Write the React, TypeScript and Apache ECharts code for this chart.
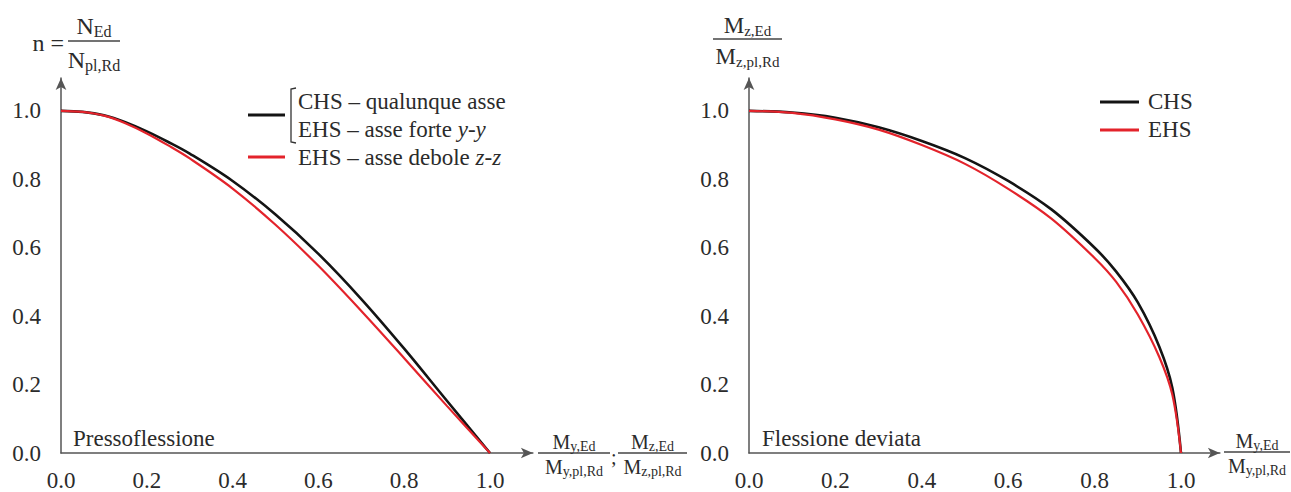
import React, { useEffect, useRef } from "react";
import * as echarts from "echarts";

// ---- data ----
const LEFT_M = [0, 0.05, 0.1, 0.15, 0.2, 0.25, 0.3, 0.4, 0.5, 0.6, 0.7, 0.8, 0.9, 1.0];
const LEFT_CHS_N = [1.0, 0.997, 0.987, 0.967, 0.94, 0.909, 0.875, 0.795, 0.697, 0.582, 0.45, 0.305, 0.152, 0];
const LEFT_EHS_WEAK_N = [1.0, 0.997, 0.986, 0.964, 0.934, 0.899, 0.861, 0.773, 0.667, 0.547, 0.415, 0.277, 0.137, 0];

const RIGHT_MY = [0, 0.1, 0.2, 0.3, 0.4, 0.5, 0.6, 0.7, 0.8, 0.85, 0.9, 0.95, 0.98, 1.0];
const RIGHT_CHS_MZ = [1.0, 0.995, 0.98, 0.952, 0.912, 0.862, 0.795, 0.712, 0.6, 0.53, 0.44, 0.31, 0.19, 0];
const RIGHT_EHS_MZ = [1.0, 0.994, 0.975, 0.945, 0.9, 0.845, 0.772, 0.685, 0.57, 0.5, 0.405, 0.28, 0.17, 0];

const TICK_INTERVAL = 0.2;

const FONT = '"Liberation Serif", "Times New Roman", serif';
const TXT = "#2b2b2b";
const AXIS = "#555";
const BLACK = "#141414";
const RED = "#e3232b";

let measureCtx: CanvasRenderingContext2D | null = null;
function tw(text: string, size: number): number {
  if (!measureCtx) measureCtx = document.createElement("canvas").getContext("2d");
  if (!measureCtx) return text.length * size * 0.5;
  measureCtx.font = `${size}px "Liberation Serif"`;
  return measureCtx.measureText(text).width;
}

function txt(x: number, y: number, text: string, size: number, extra: any = {}) {
  return {
    type: "text",
    x,
    y,
    silent: true,
    style: {
      text,
      fontSize: size,
      fontFamily: FONT,
      fill: TXT,
      align: "left",
      verticalAlign: "middle",
      ...extra,
    },
  };
}

function subbed(cx: number, baseline: number, main: string, sub: string, ms: number, ss: number) {
  const wm = tw(main, ms);
  const ws = tw(sub, ss);
  const x0 = cx - (wm + ws) / 2;
  return [
    txt(x0, baseline - 0.3 * ms, main, ms),
    txt(x0 + wm, baseline + 3 - 0.3 * ss, sub, ss),
  ];
}

function frac(
  x1: number,
  x2: number,
  lineY: number,
  num: [string, string],
  den: [string, string],
  ms: number,
  ss: number,
  numOff: number,
  denOff: number
) {
  const cx = (x1 + x2) / 2;
  return [
    {
      type: "line",
      silent: true,
      shape: { x1, y1: lineY, x2, y2: lineY },
      style: { stroke: "#444", lineWidth: 1.3 },
    },
    ...subbed(cx, lineY - numOff, num[0], num[1], ms, ss),
    ...subbed(cx, lineY + denOff, den[0], den[1], ms, ss),
  ];
}

function zip(xs: number[], ys: number[]) {
  return xs.map((x, i) => [x, ys[i]]);
}

const fmt = (v: number) => {
  const r = v / TICK_INTERVAL;
  return Math.abs(r - Math.round(r)) < 1e-6 ? v.toFixed(1) : "";
};

function makeXAxis(gridIndex: number, max: number) {
  return {
    type: "value",
    gridIndex,
    min: 0,
    max,
    interval: TICK_INTERVAL,
    axisLine: { show: true, lineStyle: { color: AXIS, width: 1.5 }, symbol: ["none", "arrow"], symbolSize: [8, 12] },
    axisTick: { show: false },
    splitLine: { show: false },
    axisLabel: {
      showMaxLabel: false,
      formatter: fmt,
      fontSize: 23,
      fontFamily: FONT,
      color: TXT,
      margin: 16,
    },
  };
}

function makeYAxis(gridIndex: number, max: number) {
  return {
    type: "value",
    gridIndex,
    min: 0,
    max,
    interval: TICK_INTERVAL,
    axisLine: { show: true, lineStyle: { color: AXIS, width: 1.5 }, symbol: ["none", "arrow"], symbolSize: [8, 12] },
    axisTick: { show: false },
    splitLine: { show: false },
    axisLabel: {
      showMaxLabel: false,
      formatter: fmt,
      fontSize: 23,
      fontFamily: FONT,
      color: TXT,
      margin: 20,
    },
  };
}

function curve(name: string, xi: number, xs: number[], ys: number[], color: string, width: number) {
  return {
    name,
    type: "line",
    xAxisIndex: xi,
    yAxisIndex: xi,
    data: zip(xs, ys),
    smooth: 0.35,
    symbol: "none",
    lineStyle: { color, width },
  };
}

export default function App() {
  const ref = useRef<HTMLDivElement>(null);
  useEffect(() => {
    if (!ref.current) return;
    const chart = echarts.init(ref.current, undefined, { renderer: "svg" });

    const yMax = 1.096;
    const plotH = 378;
    const top = 78;
    const italic = { i: { fontStyle: "italic", fontSize: 23, fontFamily: FONT, fill: TXT } };

    const graphic: any[] = [
      // left y title
      txt(64, 43, "n =", 24, { align: "right" }),
      ...frac(68, 120, 41, ["N", "Ed"], ["N", "pl,Rd"], 24, 16, 8, 26),
      // right y title
      ...frac(713, 782, 39, ["M", "z,Ed"], ["M", "z,pl,Rd"], 23, 15, 7, 24),
      // left x title
      ...frac(538, 610, 453, ["M", "y,Ed"], ["M", "y,pl,Rd"], 20, 14, 5, 20),
      txt(611, 457, ";", 20),
      ...frac(618, 687, 453, ["M", "z,Ed"], ["M", "z,pl,Rd"], 20, 14, 5, 20),
      // right x title
      ...frac(1224, 1290, 452, ["M", "y,Ed"], ["M", "y,pl,Rd"], 20, 14, 5, 20),
      // panel captions
      txt(73, 438, "Pressoflessione", 23),
      txt(762, 438, "Flessione deviata", 23),
      // left legend
      {
        type: "line",
        silent: true,
        shape: { x1: 248, y1: 115, x2: 285, y2: 115 },
        style: { stroke: BLACK, lineWidth: 3 },
      },
      {
        type: "polyline",
        silent: true,
        shape: { points: [[296, 88], [291, 89], [291, 142], [296, 143]] },
        style: { stroke: "#333", lineWidth: 1.3, fill: "none" },
      },
      txt(298, 101, "CHS – qualunque asse", 23),
      txt(298, 129, "EHS – asse forte {i|y-y}", 23, { rich: italic }),
      {
        type: "line",
        silent: true,
        shape: { x1: 248, y1: 157, x2: 285, y2: 157 },
        style: { stroke: RED, lineWidth: 3 },
      },
      txt(298, 157, "EHS – asse debole {i|z-z}", 23, { rich: italic }),
      // right legend
      {
        type: "line",
        silent: true,
        shape: { x1: 1100, y1: 102, x2: 1139, y2: 102 },
        style: { stroke: BLACK, lineWidth: 3 },
      },
      txt(1148, 101, "CHS", 23),
      {
        type: "line",
        silent: true,
        shape: { x1: 1100, y1: 130, x2: 1139, y2: 130 },
        style: { stroke: RED, lineWidth: 3 },
      },
      txt(1148, 129, "EHS", 23),
    ];

    chart.setOption({
      animation: false,
      backgroundColor: "#fff",
      textStyle: { fontFamily: FONT },
      grid: [
        { left: 61, top, width: 429 * 1.1, height: plotH },
        { left: 749, top, width: 432 * 1.09, height: plotH },
      ],
      xAxis: [makeXAxis(0, 1.1), makeXAxis(1, 1.09)],
      yAxis: [makeYAxis(0, yMax), makeYAxis(1, yMax)],
      series: [
        curve("CHS – qualunque asse / EHS – asse forte y-y", 0, LEFT_M, LEFT_CHS_N, BLACK, 2.6),
        curve("EHS – asse debole z-z", 0, LEFT_M, LEFT_EHS_WEAK_N, RED, 2.2),
        curve("CHS", 1, RIGHT_MY, RIGHT_CHS_MZ, BLACK, 2.6),
        curve("EHS", 1, RIGHT_MY, RIGHT_EHS_MZ, RED, 2.2),
      ],
      graphic,
    });
    return () => chart.dispose();
  }, []);
  return (
    <div
      ref={ref}
      style={{ position: "absolute", left: 0, top: 0, width: 1291, height: 492, background: "#fff" }}
    />
  );
}
